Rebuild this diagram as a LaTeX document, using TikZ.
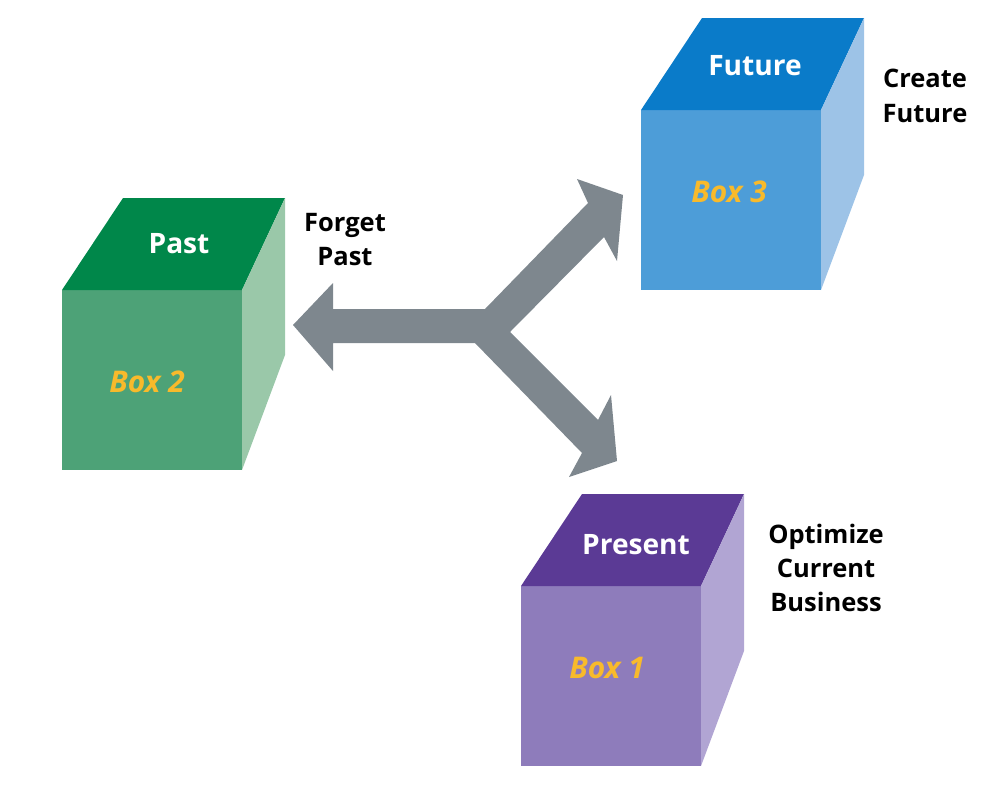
\documentclass[tikz,border=0pt]{standalone}
\usepackage{fontspec}
\setmainfont{Open Sans}
\usepackage{xcolor}
\usepackage{tikz}
\definecolor{PastTop}{HTML}{00874A}
\definecolor{PastFront}{HTML}{4DA277}
\definecolor{PastSide}{HTML}{9AC8A9}
\definecolor{FutTop}{HTML}{0A7BC9}
\definecolor{FutFront}{HTML}{4D9DD8}
\definecolor{FutSide}{HTML}{9DC3E7}
\definecolor{PresTop}{HTML}{5B3A95}
\definecolor{PresFront}{HTML}{8E7CBB}
\definecolor{PresSide}{HTML}{B1A5D3}
\definecolor{BoxGold}{HTML}{F8BA2B}
\definecolor{ArrowGray}{HTML}{7E878E}
\tikzset{
  toplabel/.style={anchor=base, inner sep=0pt, text=white, font=\fontsize{16}{19}\selectfont\bfseries},
  boxlabel/.style={anchor=base, inner sep=0pt, text=BoxGold, font=\fontsize{17}{20}\selectfont\bfseries\itshape},
  sidenote/.style={align=center, inner sep=0pt, font=\fontsize{14.5}{19.6}\selectfont\bfseries},
}

\begin{document}
\begin{tikzpicture}[x=0.02cm, y=-0.02cm]
  \useasboundingbox (0,0) rectangle (1000,791);
  % three-way arrow, drawn as one shape
  \coordinate (pastTip) at (293,325);
  \coordinate (futTip) at (623,195);
  \coordinate (presTip) at (617,461);
  \coordinate (hubUp) at (485,309);
  \coordinate (hubNotch) at (510,332);
  \coordinate (hubLow) at (475,343);
  \fill[ArrowGray] (pastTip) -- (333,283) -- (333,309) -- (hubUp)
    -- (588,203) -- (577,179) -- (futTip) -- (617,261) -- (604,237)
    -- (hubNotch) -- (598,420) -- (611,395) -- (presTip) -- (569,477)
    -- (582,453) -- (hubLow) -- (333,343) -- (333,371) -- cycle;
  % past cube, front face top-left at (62,290)
  \def\X{62}\def\Y{290}
  \fill[PastFront] (\X,\Y) rectangle (\X+180,\Y+180);
  \fill[PastTop] (\X,\Y) -- (\X+180,\Y) -- (\X+223,\Y-92) -- (\X+61,\Y-92) -- cycle;
  \fill[PastSide] (\X+180,\Y) -- (\X+223,\Y-92) -- (\X+223,\Y+65) -- (\X+180,\Y+180) -- cycle;
  \node[toplabel] (pastTop) at (\X+117,\Y-37) {Past};
  \node[boxlabel] (pastBox) at (\X+85,\Y+102) {Box 2};
  % future cube
  \def\X{641}\def\Y{110}
  \fill[FutFront] (\X,\Y) rectangle (\X+180,\Y+180);
  \fill[FutTop] (\X,\Y) -- (\X+180,\Y) -- (\X+223,\Y-92) -- (\X+61,\Y-92) -- cycle;
  \fill[FutSide] (\X+180,\Y) -- (\X+223,\Y-92) -- (\X+223,\Y+65) -- (\X+180,\Y+180) -- cycle;
  \node[toplabel] (futTop) at (\X+114,\Y-35) {Future};
  \node[boxlabel] (futBox) at (\X+88,\Y+92) {Box 3};
  % present cube
  \def\X{521}\def\Y{586}
  \fill[PresFront] (\X,\Y) rectangle (\X+180,\Y+180);
  \fill[PresTop] (\X,\Y) -- (\X+180,\Y) -- (\X+223,\Y-92) -- (\X+61,\Y-92) -- cycle;
  \fill[PresSide] (\X+180,\Y) -- (\X+223,\Y-92) -- (\X+223,\Y+65) -- (\X+180,\Y+180) -- cycle;
  \node[toplabel] (presTop) at (\X+115,\Y-32) {Present};
  \node[boxlabel] (presBox) at (\X+86,\Y+92) {Box 1};
  % side notes
  \node[sidenote] (pastNote) at (345,239.5) {Forget\\Past};
  \node[sidenote] (futNote) at (925,96) {Create\\Future};
  \node[sidenote] (presNote) at (826,568) {Optimize\\Current\\Business};
\end{tikzpicture}
\end{document}
